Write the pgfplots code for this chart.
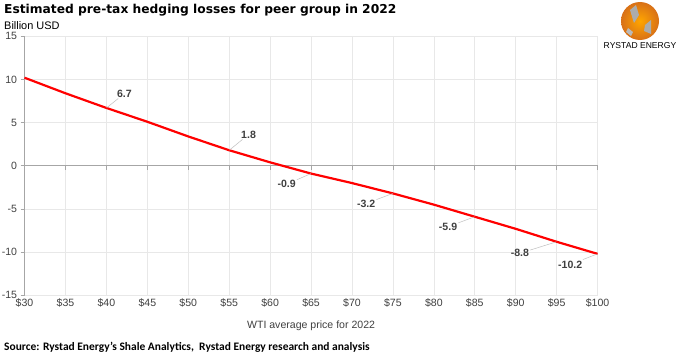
\documentclass[border=0pt]{standalone}
\usepackage{pgfplots}
\pgfplotsset{compat=1.18}
\usepackage{fontspec}
\setmainfont{Liberation Sans}
\newfontfamily\titlefont{DejaVu Sans}
\newfontfamily\srcfont{Carlito}
\definecolor{axgray}{HTML}{A6A6A6}
\definecolor{txtgray}{HTML}{404040}
\definecolor{rorange}{HTML}{F07D1A}
\begin{document}
\begin{tikzpicture}[x=1bp,y=1bp]
\useasboundingbox (0,0) rectangle (680,354);
\fill[white] (0,0) rectangle (680,354);
\node[anchor=west,inner sep=0] at (4,344) {\titlefont\bfseries\fontsize{12.3}{14}\selectfont Estimated pre-tax hedging losses for peer group in 2022};
\node[anchor=west,inner sep=0] at (4,328) {\fontsize{11}{13}\selectfont Billion USD};
\node[anchor=west,inner sep=0] at (4,7) {\srcfont\bfseries\fontsize{11.5}{13}\selectfont Source: Rystad Energy’s Shale Analytics,\ \ Rystad Energy research and analysis};
% logo
\shade[inner color=orange!70!yellow, outer color=rorange!90!black] (640,333) circle (19);
\fill[gray!65] (630,344) -- (636,349) -- (639,339) -- (634,331) -- cycle;
\fill[gray!65] (645,329) -- (651,334) -- (651,320) -- (644,323) -- cycle;
\fill[gray!55] (628,326) -- (633,322) -- (631,318) -- (626,322) -- cycle;
\node[inner sep=0] at (640,308) {\fontsize{8.6}{10}\selectfont RYSTAD ENERGY};
\begin{axis}[
  at={(30,68)}, anchor=south west,
  scale only axis, width=573bp, height=259bp,
  xmin=30, xmax=100, ymin=-15, ymax=15,
  xtick={30,35,...,100},
  xticklabels={\$30,\$35,\$40,\$45,\$50,\$55,\$60,\$65,\$70,\$75,\$80,\$85,\$90,\$95,\$100},
  ytick={-15,-10,-5,0,5,10,15},
  yticklabels={-15,-10,-5,0,5,10,15},
  grid=major,
  major grid style={gray!18, line width=0.6pt},
  axis x line*=bottom, axis y line*=left,
  x axis line style={draw=gray!18},
  y axis line style={draw=axgray, line width=0.7pt},
  xtick style={draw=none},
  ytick style={draw=axgray, line width=0.7pt},
  tick align=outside,
  major tick length=4bp,
  tick label style={font=\fontsize{10.6}{12}\selectfont, text=txtgray},
  xticklabel style={yshift=4bp},
  xlabel={WTI average price for 2022},
  xlabel style={font=\fontsize{10.6}{12}\selectfont, text=txtgray, yshift=-7bp},
  clip=false,
]
\addplot[axgray, line width=0.7pt, forget plot] coordinates {(30,0) (100,0)};
\foreach \t in {30,35,40,45,50,55,60,65,70,75,80,85,90,95,100}{
  \edef\tmp{\noexpand\draw[axgray, line width=0.7pt] (axis cs:\t,0) -- ([yshift=-4bp]axis cs:\t,0);}
  \tmp
}
\addplot[red, line width=2.2pt] coordinates {
(30,10.2) (35,8.4) (40,6.7) (45,5.1) (50,3.4) (55,1.8) (60,0.4) (65,-0.9) (70,-2.0) (75,-3.2) (80,-4.5) (85,-5.9) (90,-7.3) (95,-8.8) (100,-10.2)};
\addplot[draw=none, mark=none,
  point meta=explicit symbolic,
  visualization depends on={\thisrow{ang}\as\ang},
  visualization depends on={\thisrow{pd}\as\pd},
  nodes near coords={},
  every node near coord/.style={inner sep=0pt, minimum size=0pt, anchor=center,
    pin={[pin distance=\pd bp, pin edge={gray!50, line width=0.5pt}, inner sep=1pt, font=\bfseries\fontsize{10.6}{12}\selectfont, text=txtgray]\ang:\pgfplotspointmeta}},
] table[meta=lbl] {
x y lbl ang pd
40 6.7 6.7 45 13
55 1.8 1.8 45 15
65 -0.9 -0.9 -158 15
75 -3.2 -3.2 -163 17
85 -5.9 -5.9 -163 17
95 -8.8 -8.8 -166 27
100 -10.2 -10.2 -158 15
};
\end{axis}
\end{tikzpicture}
\end{document}
